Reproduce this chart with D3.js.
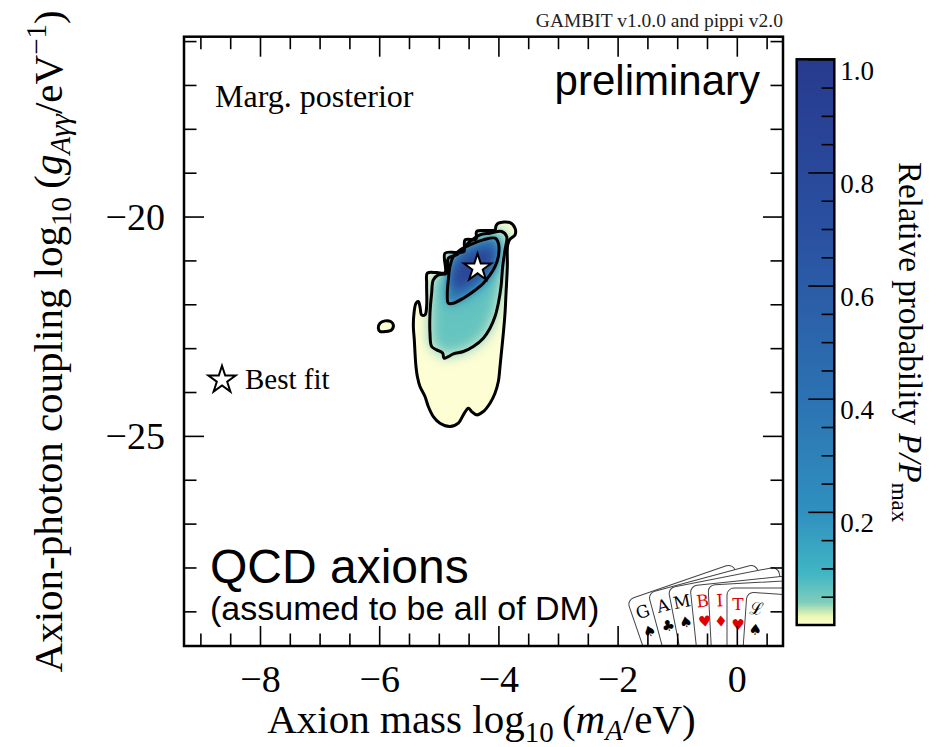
<!DOCTYPE html>
<html>
<head>
<meta charset="utf-8">
<script src="https://cdn.jsdelivr.net/npm/d3@7"></script>
<style>
body { margin: 0; background: #fff; }
svg { display: block; }
</style>
</head>
<body>
<div id="chart"></div>
<script>

// ---- data (log10 mA [eV], log10 g [1/eV]) ----
var xDomain = [-9.275, 0.775];
var yDomain = [-29.79, -15.9];
var xMajorTicks = [-8, -6, -4, -2, 0];
var yMajorTicks = [-25, -20];
var cbMajorTicks = [0.2, 0.4, 0.6, 0.8, 1.0];

// 2 sigma (outer) contour
var outerContour = [[-4.001,-20.151],[-3.805,-20.136],[-3.721,-20.265],[-3.721,-20.417],[-3.805,-20.516],
	[-3.844,-20.645],[-3.850,-21.139],[-3.872,-21.747],[-3.889,-22.203],[-3.917,-22.659],[-3.945,-23.039],
	[-3.973,-23.419],[-4.001,-23.761],[-4.057,-24.027],[-4.141,-24.255],[-4.253,-24.445],[-4.365,-24.521],
	[-4.449,-24.445],[-4.504,-24.369],[-4.588,-24.521],[-4.672,-24.711],[-4.812,-24.787],[-4.980,-24.711],
	[-5.092,-24.559],[-5.176,-24.331],[-5.232,-24.103],[-5.316,-23.875],[-5.360,-23.647],[-5.383,-23.419],
	[-5.399,-23.115],[-5.411,-22.811],[-5.427,-22.507],[-5.416,-22.203],[-5.383,-21.975],[-5.344,-21.937],
	[-5.316,-22.051],[-5.288,-22.241],[-5.232,-22.241],[-5.204,-22.051],[-5.204,-21.519],[-5.192,-21.291],
	[-5.036,-21.276],[-4.896,-21.276],[-4.896,-20.835],[-4.700,-20.820],[-4.577,-20.797],[-4.560,-20.531],
	[-4.376,-20.516],[-4.365,-20.341],[-4.225,-20.318],[-4.057,-20.303],[-4.040,-20.212]];

var islandContour = [[-6.015,-22.545],[-5.987,-22.431],[-5.903,-22.378],[-5.808,-22.393],
	[-5.763,-22.469],[-5.791,-22.583],[-5.903,-22.621],[-5.987,-22.621]];

// 1 sigma contour
var middleContour = [[-3.945,-20.341],[-3.861,-20.455],[-3.889,-20.759],[-3.928,-21.139],[-3.956,-21.595],
	[-4.001,-21.975],[-4.057,-22.279],[-4.141,-22.545],[-4.253,-22.773],[-4.421,-22.963],[-4.588,-23.077],
	[-4.756,-23.130],[-4.840,-23.191],[-4.913,-23.229],[-4.935,-23.115],[-5.036,-23.039],[-5.120,-22.963],
	[-5.148,-22.659],[-5.148,-22.203],[-5.120,-21.747],[-5.092,-21.443],[-5.008,-21.329],[-4.868,-21.291],
	[-4.840,-20.949],[-4.700,-20.873],[-4.560,-20.683],[-4.477,-20.569],[-4.309,-20.417],[-4.141,-20.379]];

// innermost contour
var innerContour = [[-4.057,-20.493],[-4.001,-20.607],[-4.001,-20.911],[-4.057,-21.139],[-4.141,-21.329],
	[-4.253,-21.519],[-4.421,-21.709],[-4.588,-21.861],[-4.756,-21.975],[-4.840,-21.975],[-4.857,-21.747],
	[-4.840,-21.443],[-4.812,-21.139],[-4.756,-20.911],[-4.644,-20.759],[-4.477,-20.645],[-4.253,-20.531]];

// densest part of the posterior
var coreRegion = [[-4.477,-20.835],[-4.141,-20.683],[-4.057,-20.873],[-4.197,-21.215],
	[-4.477,-21.519],[-4.700,-21.671],[-4.784,-21.519],[-4.728,-21.139]];

var bestFit = [-4.35, -21.17];

// relative probability of each shaded region
var fillRegions = [outerContour, middleContour, innerContour, innerContour, coreRegion];
var fillLevels = [0.002, 0.06, 0.12, 0.36, 0.85];
var fillBlur = [0, 7, 12, 4, 6];

// colour map
var cmapStops = [0, 0.015, 0.04, 0.09, 0.2, 0.4, 0.7, 1.0];
var cmapColors = ["#ffffd9", "#edf8b1", "#7fcdbb", "#41b6c4", "#3090bf", "#2c72b2", "#2a50a0", "#273a8e"];

var cardLetters = ["G", "A", "M", "B", "I", "T", "\u2112"];
var cardSuits = ["\u2660", "\u2663", "\u2660", "\u2665", "\u2666", "\u2665", "\u2660"];
var cardRed = [false, false, false, true, true, true, false];

// ---- layout ----
var width = 948, height = 747;
var pLeft = 184, pRight = 783, pTop = 36.7, pBottom = 646;
var serif = "'Liberation Serif', 'Times New Roman', serif";
var sans = "'Liberation Sans', Arial, sans-serif";

var svg = d3.select("#chart").append("svg")
	.attr("width", width)
	.attr("height", height);

var defs = svg.append("defs");

var xScale = d3.scaleLinear().domain(xDomain).range([pLeft, pRight]);
var yScale = d3.scaleLinear().domain(yDomain).range([pBottom, pTop]);
var cScale = d3.scaleLinear().domain(cmapStops).range(cmapColors);

var line = d3.line()
	.x(function(d) { return xScale(d[0]); })
	.y(function(d) { return yScale(d[1]); })
	.curve(d3.curveCatmullRomClosed.alpha(0.5));

defs.append("clipPath").attr("id", "outerclip")
	.append("path").attr("d", line(outerContour));

defs.append("clipPath").attr("id", "plotclip")
	.append("rect")
	.attr("x", pLeft).attr("y", pTop)
	.attr("width", pRight - pLeft).attr("height", pBottom - pTop);

fillBlur.forEach(function(b, i) {
	if (b > 0) {
		defs.append("filter").attr("id", "blur" + i)
			.attr("x", "-50%").attr("y", "-50%")
			.attr("width", "200%").attr("height", "200%")
			.append("feGaussianBlur").attr("stdDeviation", b);
	}
});

// shaded posterior
var shade = svg.append("g").attr("clip-path", "url(#outerclip)");
shade.selectAll("path")
	.data(fillRegions)
	.enter()
	.append("path")
	.attr("d", function(d) { return line(d); })
	.attr("fill", function(d, i) { return cScale(fillLevels[i]); })
	.attr("filter", function(d, i) { return fillBlur[i] > 0 ? "url(#blur" + i + ")" : null; });

svg.append("path")
	.attr("d", line(islandContour))
	.attr("fill", cScale(fillLevels[0]));

// contour lines
svg.selectAll(".contour")
	.data([outerContour, islandContour, middleContour, innerContour])
	.enter()
	.append("path")
	.attr("class", "contour")
	.attr("d", function(d) { return line(d); })
	.attr("fill", "none")
	.attr("stroke", "black")
	.attr("stroke-width", 3)
	.attr("stroke-linejoin", "round");

var star = d3.symbol().type(d3.symbolStar).size(230);

svg.append("path")
	.attr("d", star())
	.attr("transform", "translate(" + xScale(bestFit[0]) + "," + yScale(bestFit[1]) + ")")
	.attr("fill", "white")
	.attr("stroke", "black")
	.attr("stroke-width", 2);

// GAMBIT cards logo
var cardPos = [[627, 600, -19], [648, 593, -15], [668, 588, -11], [690, 586, -6],
	[708, 585, -3], [727, 588, 0], [747, 592, 4]];
var logo = svg.append("g").attr("clip-path", "url(#plotclip)");
var cards = logo.selectAll("g")
	.data(cardLetters)
	.enter()
	.append("g")
	.attr("transform", function(d, i) {
		return "translate(" + cardPos[i][0] + "," + cardPos[i][1] + ") rotate(" + cardPos[i][2] + ")";
	});
cards.append("rect")
	.attr("width", 112).attr("height", 150)
	.attr("rx", 7)
	.attr("fill", "white")
	.attr("stroke", "#444")
	.attr("stroke-width", 1);
cards.append("text")
	.attr("x", 11).attr("y", 22)
	.attr("text-anchor", "middle")
	.attr("font-family", "'DejaVu Serif', serif")
	.attr("font-size", 17)
	.attr("fill", function(d, i) { return cardRed[i] ? "#e00000" : "black"; })
	.text(function(d) { return d; });
cards.append("text")
	.attr("x", 11).attr("y", 42)
	.attr("text-anchor", "middle")
	.attr("font-family", "'DejaVu Sans', sans-serif")
	.attr("font-size", 15)
	.attr("fill", function(d, i) { return cardRed[i] ? "#e00000" : "black"; })
	.text(function(d, i) { return cardSuits[i]; });

// axes, ticks inside on all four sides
var majorLen = 20, minorLen = 12.5;
var xMinor = d3.range(-9, 0.8, 0.5).filter(function(v) { return xMajorTicks.indexOf(v) < 0; });
var yMinor = d3.range(-29, -15, 1).filter(function(v) { return yMajorTicks.indexOf(v) < 0; });
var cbMinor = d3.range(0.05, 1.0, 0.05).filter(function(v) {
	return cbMajorTicks.every(function(m) { return Math.abs(m - v) > 1e-6; });
});

function styleAxis(g) {
	g.select(".domain").remove();
	g.selectAll(".tick line").attr("stroke", "black").attr("stroke-width", 1.6);
	g.selectAll("text").attr("font-family", serif).attr("font-size", 38).attr("fill", "black");
}

var fmtInt = d3.format("d");

svg.append("g")
	.attr("transform", "translate(0," + pBottom + ")")
	.call(d3.axisBottom(xScale).tickValues(xMajorTicks).tickSize(-majorLen).tickFormat(fmtInt))
	.call(styleAxis)
	.selectAll("text").attr("dy", null).attr("y", 46);
svg.append("g")
	.attr("transform", "translate(0," + pBottom + ")")
	.call(d3.axisBottom(xScale).tickValues(xMinor).tickSize(-minorLen).tickFormat(""))
	.call(styleAxis);
svg.append("g")
	.attr("transform", "translate(0," + pTop + ")")
	.call(d3.axisTop(xScale).tickValues(xMajorTicks).tickSize(-majorLen).tickFormat(""))
	.call(styleAxis);
svg.append("g")
	.attr("transform", "translate(0," + pTop + ")")
	.call(d3.axisTop(xScale).tickValues(xMinor).tickSize(-minorLen).tickFormat(""))
	.call(styleAxis);

svg.append("g")
	.attr("transform", "translate(" + pLeft + ",0)")
	.call(d3.axisLeft(yScale).tickValues(yMajorTicks).tickSize(-majorLen).tickPadding(19).tickFormat(fmtInt))
	.call(styleAxis)
	.selectAll("text").attr("dy", "0.33em");
svg.append("g")
	.attr("transform", "translate(" + pLeft + ",0)")
	.call(d3.axisLeft(yScale).tickValues(yMinor).tickSize(-minorLen).tickFormat(""))
	.call(styleAxis);
svg.append("g")
	.attr("transform", "translate(" + pRight + ",0)")
	.call(d3.axisRight(yScale).tickValues(yMajorTicks).tickSize(-majorLen).tickFormat(""))
	.call(styleAxis);
svg.append("g")
	.attr("transform", "translate(" + pRight + ",0)")
	.call(d3.axisRight(yScale).tickValues(yMinor).tickSize(-minorLen).tickFormat(""))
	.call(styleAxis);

svg.append("rect")
	.attr("x", pLeft).attr("y", pTop)
	.attr("width", pRight - pLeft).attr("height", pBottom - pTop)
	.attr("fill", "none")
	.attr("stroke", "black")
	.attr("stroke-width", 2.5);

// rich text helper: parts with optional italic / size / vertical shift
function rich(sel, parts) {
	var cur = 0;
	parts.forEach(function(p) {
		var shift = p.shift || 0;
		var ts = sel.append("tspan").text(p.t).attr("dy", shift - cur);
		cur = shift;
		if (p.i) ts.style("font-style", "italic");
		if (p.s) ts.style("font-size", p.s + "px");
	});
}

var xl = svg.append("text")
	.attr("x", (pLeft + pRight) / 2 - 2)
	.attr("y", 733)
	.attr("text-anchor", "middle")
	.attr("font-family", serif)
	.attr("font-size", 41);
rich(xl, [{t: "Axion mass log"}, {t: "10", s: 29, shift: 9}, {t: "\u2009("}, {t: "m", i: true},
	{t: "A", i: true, s: 29, shift: 7}, {t: "/eV)"}]);

var yl = svg.append("text")
	.attr("transform", "translate(62," + ((pTop + pBottom) / 2) + ") rotate(-90)")
	.attr("text-anchor", "middle")
	.attr("font-family", serif)
	.attr("font-size", 41);
rich(yl, [{t: "Axion-photon coupling log"}, {t: "10", s: 29, shift: 9}, {t: "\u2009("}, {t: "g", i: true},
	{t: "A\u03b3\u03b3", i: true, s: 29, shift: 8}, {t: "/eV"}, {t: "\u22121", s: 29, shift: -16}, {t: ")"}]);

// colour bar
var cbLeft = 796.7, cbRight = 834.3, cbTop = 59.3, cbBottom = 625;
var cbScale = d3.scaleLinear().domain([0, 1]).range([cbBottom, cbTop]);

var grad = defs.append("linearGradient").attr("id", "cbgrad")
	.attr("x1", 0).attr("y1", 1).attr("x2", 0).attr("y2", 0);
grad.selectAll("stop")
	.data(cmapStops)
	.enter()
	.append("stop")
	.attr("offset", function(d) { return d; })
	.attr("stop-color", function(d, i) { return cmapColors[i]; });

svg.append("rect")
	.attr("x", cbLeft).attr("y", cbTop)
	.attr("width", cbRight - cbLeft).attr("height", cbBottom - cbTop)
	.attr("fill", "url(#cbgrad)");

svg.append("g")
	.attr("transform", "translate(" + cbRight + ",0)")
	.call(d3.axisRight(cbScale).tickValues(cbMajorTicks).tickSize(-26).tickPadding(6).tickFormat(d3.format(".1f")))
	.call(styleAxis)
	.selectAll("text").attr("font-size", 27).attr("dy", "0.74em");
svg.append("g")
	.attr("transform", "translate(" + cbRight + ",0)")
	.call(d3.axisRight(cbScale).tickValues(cbMinor).tickSize(-12.7).tickFormat(""))
	.call(styleAxis);

svg.append("rect")
	.attr("x", cbLeft).attr("y", cbTop)
	.attr("width", cbRight - cbLeft).attr("height", cbBottom - cbTop)
	.attr("fill", "none")
	.attr("stroke", "black")
	.attr("stroke-width", 2.5);

var cl = svg.append("text")
	.attr("transform", "translate(899," + ((cbTop + cbBottom) / 2) + ") rotate(90)")
	.attr("text-anchor", "middle")
	.attr("font-family", serif)
	.attr("font-size", 33);
rich(cl, [{t: "Relative probability "}, {t: "P/P", i: true}, {t: "max", s: 23, shift: 7}]);

// annotations
svg.append("text")
	.attr("x", 783).attr("y", 27)
	.attr("text-anchor", "end")
	.attr("font-family", serif)
	.attr("font-size", 19.5)
	.attr("fill", "#222")
	.text("GAMBIT v1.0.0 and pippi v2.0");

svg.append("text")
	.attr("x", 215).attr("y", 107)
	.attr("font-family", serif)
	.attr("font-size", 32)
	.text("Marg. posterior");

svg.append("text")
	.attr("x", 760).attr("y", 95)
	.attr("text-anchor", "end")
	.attr("font-family", sans)
	.attr("font-size", 42)
	.text("preliminary");

svg.append("text")
	.attr("x", 210).attr("y", 583)
	.attr("font-family", sans)
	.attr("font-size", 48)
	.text("QCD axions");

svg.append("text")
	.attr("x", 210).attr("y", 620)
	.attr("font-family", sans)
	.attr("font-size", 34)
	.text("(assumed to be all of DM)");

svg.append("path")
	.attr("d", star())
	.attr("transform", "translate(222,380)")
	.attr("fill", "white")
	.attr("stroke", "black")
	.attr("stroke-width", 2);

svg.append("text")
	.attr("x", 245).attr("y", 389)
	.attr("font-family", serif)
	.attr("font-size", 29)
	.text("Best fit");

</script>
</body>
</html>
